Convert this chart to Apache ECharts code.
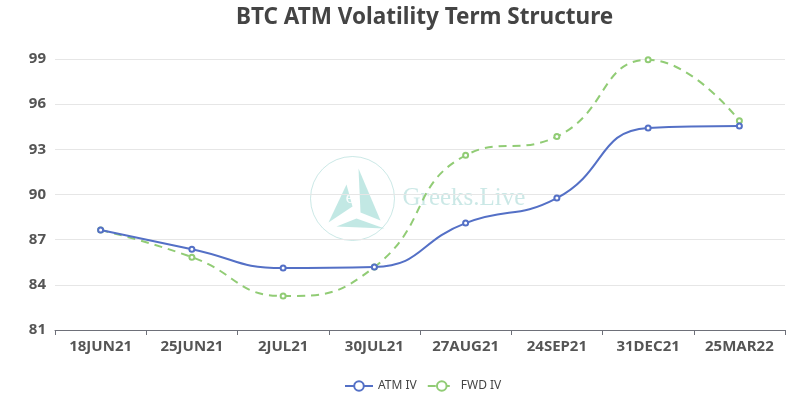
<!DOCTYPE html>
<html>
<head>
<meta charset="utf-8">
<script src="https://cdn.jsdelivr.net/npm/echarts@6/dist/echarts.min.js"></script>
<style>
  html, body { margin: 0; padding: 0; background: #fff; }
  #main { width: 790px; height: 401px; }
</style>
</head>
<body>
<div id="main"></div>
<script>
// 到期日
var expiries = ['18JUN21', '25JUN21', '2JUL21', '30JUL21', '27AUG21', '24SEP21', '31DEC21', '25MAR22'];
// 平值波动率 / 远期波动率
var atmIv = [87.64, 86.37, 85.11, 85.18, 88.1, 89.76, 94.42, 94.55];
var fwdIv = [87.64, 85.84, 83.26, 85.18, 92.6, 93.85, 98.95, 94.9];

var myChart = echarts.init(document.getElementById('main'));
var font = '"Noto Sans", sans-serif';

var option = {
  backgroundColor: '#fff',
  title: {
    text: 'BTC ATM Volatility Term Structure',
    left: 231,
    top: 1,
    textStyle: { fontSize: 22.5, fontWeight: 'bold', color: '#444', fontFamily: font }
  },
  legend: {
    data: ['ATM IV', 'FWD IV'],
    bottom: 4,
    left: 339,
    itemWidth: 28,
    itemHeight: 12,
    itemGap: 10,
    textStyle: { fontSize: 12, color: '#444', fontFamily: font }
  },
  grid: { left: 55, right: 5, top: 59, bottom: 71 },
  // 水印
  graphic: [
    {
      type: 'group',
      left: 308,
      top: 154,
      silent: true,
      children: [
        { type: 'circle', shape: { cx: 42, cy: 42, r: 42 }, style: { fill: 'none', stroke: 'rgba(140,205,200,0.45)', lineWidth: 1 } },
        { type: 'polygon', shape: { points: [[18, 66], [36, 28], [42, 50]] }, style: { fill: 'rgba(120,205,195,0.45)' } },
        { type: 'polygon', shape: { points: [[48, 12], [70, 64], [50, 56]] }, style: { fill: 'rgba(120,205,195,0.45)' } },
        { type: 'polygon', shape: { points: [[26, 70], [46, 62], [74, 72]] }, style: { fill: 'rgba(120,205,195,0.45)' } },
        { type: 'text', style: { text: 'e', x: 35, y: 42, fontSize: 16, fontFamily: 'DejaVu Serif', fill: 'rgba(255,255,255,0.9)', verticalAlign: 'middle' } },
        { type: 'text', style: { text: 'Greeks.Live', x: 92, y: 42, fontSize: 25, fontFamily: '"Liberation Serif", serif', fill: 'rgba(140,205,200,0.45)', verticalAlign: 'middle' } }
      ]
    }
  ],
  xAxis: {
    type: 'category',
    data: expiries,
    boundaryGap: true,
    axisLine: { lineStyle: { color: '#6e7079' } },
    axisTick: { show: true, alignWithLabel: false },
    axisLabel: { fontSize: 15, fontWeight: 'bold', color: '#555', margin: 9, fontFamily: font }
  },
  yAxis: {
    type: 'value',
    min: 81,
    max: 99,
    interval: 3,
    axisLine: { show: false },
    axisTick: { show: false },
    splitLine: { lineStyle: { color: '#e6e6e6' } },
    axisLabel: { fontSize: 15, fontWeight: 'bold', color: '#555', margin: 9, fontFamily: font }
  },
  series: [
    {
      name: 'ATM IV',
      type: 'line',
      smooth: true,
      data: atmIv,
      symbol: 'emptyCircle',
      symbolSize: 5,
      color: '#5470c6',
      lineStyle: { width: 2 },
      z: 3
    },
    {
      name: 'FWD IV',
      type: 'line',
      smooth: true,
      data: fwdIv,
      symbol: 'emptyCircle',
      symbolSize: 5,
      color: '#91cc75',
      lineStyle: { width: 2, type: [8, 6] },
      z: 2
    }
  ]
};

myChart.setOption(option);
</script>
</body>
</html>
